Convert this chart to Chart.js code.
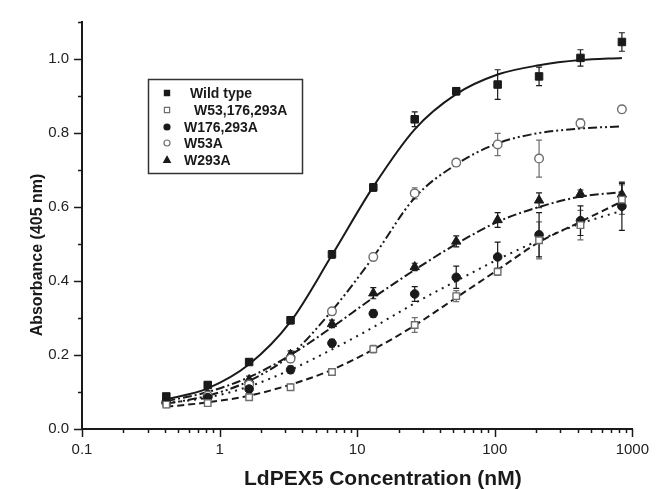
<!DOCTYPE html>
<html>
<head>
<meta charset="utf-8">
<script src="https://cdn.jsdelivr.net/npm/chart.js@4.4.1/dist/chart.umd.min.js"></script>
<style>
  html, body { margin: 0; padding: 0; background: #fff; }
  #wrap { width: 661px; height: 489px; }
</style>
</head>
<body>
<div id="wrap"><canvas id="bindingChart" width="661" height="489"></canvas></div>
<script>
// LdPEX5 concentration (nM), doubling dilutions
const concentrations = [0.41, 0.82, 1.64, 3.28, 6.56, 13.1, 26.2, 52.5, 105, 210, 420, 840];

const seriesLabels = ['Wild type', 'W53,176,293A', 'W176,293A', 'W53A', 'W293A'];

const wildType    = [0.088, 0.119, 0.181, 0.294, 0.472, 0.653, 0.837, 0.913, 0.931, 0.953, 1.003, 1.046];
const wildTypeErr = [0.008, 0.008, 0.008, 0.01, 0.01, 0.01, 0.02, 0.01, 0.04, 0.025, 0.022, 0.025];
const wildTypeFit = [0.08, 0.11, 0.175, 0.29, 0.47, 0.655, 0.81, 0.905, 0.958, 0.983, 0.997, 1.003];

const w53_176_293A    = [0.066, 0.07, 0.086, 0.113, 0.154, 0.216, 0.281, 0.359, 0.425, 0.51, 0.551, 0.62];
const w53_176_293AErr = [0.008, 0.008, 0.008, 0.008, 0.008, 0.01, 0.02, 0.015, 0.01, 0.05, 0.04, 0.04];
const w53_176_293AFit = [0.06, 0.072, 0.09, 0.12, 0.16, 0.215, 0.28, 0.355, 0.43, 0.505, 0.56, 0.615];

const w176_293A    = [0.073, 0.085, 0.108, 0.16, 0.232, 0.312, 0.365, 0.41, 0.465, 0.525, 0.563, 0.602];
const w176_293AErr = [0.008, 0.008, 0.01, 0.01, 0.01, 0.01, 0.02, 0.03, 0.04, 0.06, 0.04, 0.065];
const w176_293AFit = [0.07, 0.085, 0.115, 0.16, 0.215, 0.275, 0.34, 0.4, 0.458, 0.51, 0.555, 0.59];

const w53A    = [0.07, 0.09, 0.12, 0.19, 0.318, 0.465, 0.637, 0.72, 0.769, 0.731, 0.826, 0.864];
const w53AErr = [0.008, 0.008, 0.01, 0.01, 0.01, 0.01, 0.015, 0.01, 0.03, 0.05, 0.012, 0.01];
const w53AFit = [0.068, 0.09, 0.13, 0.2, 0.32, 0.465, 0.625, 0.715, 0.772, 0.8, 0.812, 0.818];

const w293A    = [0.077, 0.095, 0.133, 0.201, 0.284, 0.367, 0.438, 0.507, 0.565, 0.618, 0.636, 0.634];
const w293AErr = [0.008, 0.008, 0.01, 0.01, 0.01, 0.015, 0.01, 0.015, 0.02, 0.02, 0.01, 0.03];
const w293AFit = [0.075, 0.1, 0.14, 0.2, 0.275, 0.355, 0.43, 0.5, 0.56, 0.6, 0.628, 0.64];

// axes
const xMajorTicks = [0.1, 1, 10, 100, 1000];
const xTickLabels = ['0.1', '1', '10', '100', '1000'];
const yMin = 0, yMax = 1.1, yStep = 0.1;

const xAxisTitle = 'LdPEX5 Concentration (nM)';
const yAxisTitle = 'Absorbance (405 nm)';

function toPoints(values) {
  return concentrations.map((c, i) => ({ x: c, y: values[i] }));
}

const INK = '#1a1a1a';
const GREY = '#6e6e6e';

function pointSet(label, values, errors, style, radius, filled) {
  return {
    type: 'scatter',
    label: label,
    data: toPoints(values),
    errors: errors,
    pointStyle: style,
    pointRadius: radius,
    pointBackgroundColor: filled ? INK : '#fff',
    pointBorderColor: filled ? INK : GREY,
    pointBorderWidth: filled ? 1 : 1.4,
    showLine: false,
    order: 0
  };
}

function curveSet(values, dash) {
  return {
    type: 'line',
    label: '',
    data: toPoints(values),
    borderColor: INK,
    borderWidth: 2,
    borderDash: dash,
    pointRadius: 0,
    cubicInterpolationMode: 'monotone',
    fill: false,
    order: 1
  };
}

// error bars behind the markers
const errorBars = {
  id: 'errorBars',
  beforeDatasetsDraw(chart) {
    const ctx = chart.ctx;
    const x = chart.scales.x, y = chart.scales.y;
    ctx.save();
    chart.data.datasets.forEach(ds => {
      if (!ds.errors) return;
      ctx.strokeStyle = ds.pointBorderColor;
      ctx.lineWidth = 1.2;
      ds.data.forEach((p, i) => {
        const e = ds.errors[i];
        const px = x.getPixelForValue(p.x);
        const top = y.getPixelForValue(p.y + e);
        const bot = y.getPixelForValue(p.y - e);
        ctx.beginPath();
        ctx.moveTo(px, top); ctx.lineTo(px, bot);
        ctx.moveTo(px - 3, top); ctx.lineTo(px + 3, top);
        ctx.moveTo(px - 3, bot); ctx.lineTo(px + 3, bot);
        ctx.stroke();
      });
    });
    ctx.restore();
  }
};

function drawMarker(ctx, style, cx, cy, r, filled) {
  ctx.fillStyle = filled ? INK : '#fff';
  ctx.strokeStyle = filled ? INK : GREY;
  ctx.lineWidth = 1.2;
  ctx.beginPath();
  if (style === 'rect') {
    ctx.rect(cx - r, cy - r, 2 * r, 2 * r);
  } else if (style === 'triangle') {
    ctx.moveTo(cx, cy - r * 1.2);
    ctx.lineTo(cx + r * 1.1, cy + r * 0.8);
    ctx.lineTo(cx - r * 1.1, cy + r * 0.8);
    ctx.closePath();
  } else {
    ctx.arc(cx, cy, r, 0, Math.PI * 2);
  }
  ctx.fill();
  ctx.stroke();
}

// tick marks (long for labelled, short for minor), axis titles and boxed legend
const frame = {
  id: 'frame',
  afterDraw(chart) {
    const ctx = chart.ctx;
    const xs = chart.scales.x, ys = chart.scales.y;
    const area = chart.chartArea;
    ctx.save();
    ctx.strokeStyle = INK;
    ctx.lineWidth = 1.5;
    xs.ticks.forEach(t => {
      const px = Math.round(xs.getPixelForValue(t.value)) + 0.5;
      const len = xMajorTicks.includes(t.value) ? 8 : 4;
      ctx.beginPath();
      ctx.moveTo(px, area.bottom);
      ctx.lineTo(px, area.bottom + len);
      ctx.stroke();
    });
    ys.ticks.forEach(t => {
      const py = Math.round(ys.getPixelForValue(t.value)) + 0.5;
      const len = Math.round(t.value * 10) % 2 === 0 ? 8 : 4;
      ctx.beginPath();
      ctx.moveTo(area.left, py);
      ctx.lineTo(area.left - len, py);
      ctx.stroke();
    });

    // axis titles
    ctx.fillStyle = INK;
    ctx.font = 'bold 21px "Liberation Sans", Arial, sans-serif';
    ctx.textAlign = 'left';
    ctx.textBaseline = 'alphabetic';
    ctx.fillText(xAxisTitle, 244, 485);
    ctx.save();
    ctx.translate(42, 255);
    ctx.rotate(-Math.PI / 2);
    ctx.font = 'bold 16px "Liberation Sans", Arial, sans-serif';
    ctx.textAlign = 'center';
    ctx.fillText(yAxisTitle, 0, 0);
    ctx.restore();

    // legend
    ctx.lineWidth = 1.5;
    ctx.strokeStyle = '#333';
    ctx.strokeRect(148.5, 79.5, 154, 94);
    const rowY = [93, 110, 127, 143, 160];
    const textX = [190, 194, 184, 184, 184];
    const pts = chart.data.datasets.filter(d => d.type === 'scatter');
    ctx.font = 'bold 14px "Liberation Sans", Arial, sans-serif';
    ctx.textBaseline = 'middle';
    pts.forEach((ds, i) => {
      const filled = ds.pointBackgroundColor === INK;
      const r = ds.pointStyle === 'rect' ? 2.6 : 3;
      drawMarker(ctx, ds.pointStyle, 167, rowY[i], r, filled);
      ctx.fillStyle = INK;
      ctx.fillText(ds.label, textX[i], rowY[i] + 1);
    });
    ctx.restore();
  }
};

const ctx = document.getElementById('bindingChart').getContext('2d');
const bindingChart = new Chart(ctx, {
  data: {
    datasets: [
      pointSet(seriesLabels[0], wildType, wildTypeErr, 'rect', 5.3, true),
      pointSet(seriesLabels[1], w53_176_293A, w53_176_293AErr, 'rect', 4.6, false),
      pointSet(seriesLabels[2], w176_293A, w176_293AErr, 'circle', 4.3, true),
      pointSet(seriesLabels[3], w53A, w53AErr, 'circle', 4.3, false),
      pointSet(seriesLabels[4], w293A, w293AErr, 'triangle', 5.4, true),
      curveSet(wildTypeFit, []),
      curveSet(w53_176_293AFit, [7, 4]),
      curveSet(w176_293AFit, [2, 5]),
      curveSet(w53AFit, [9, 3, 2, 3, 2, 3]),
      curveSet(w293AFit, [9, 3, 2, 3])
    ]
  },
  options: {
    responsive: false,
    devicePixelRatio: 1,
    animation: false,
    layout: { padding: { top: 15, right: 21, bottom: 0, left: 0 } },
    plugins: {
      legend: { display: false },
      tooltip: { enabled: false }
    },
    scales: {
      x: {
        type: 'logarithmic',
        min: 0.1,
        max: 1000,
        afterBuildTicks: scale => {
          const vals = [];
          xMajorTicks.slice(0, -1).forEach(d => {
            for (let k = 1; k < 10; k++) vals.push(+(d * k).toPrecision(3));
          });
          vals.push(xMajorTicks[xMajorTicks.length - 1]);
          scale.ticks = vals.map(v => ({ value: v }));
        },
        afterFit: scale => { scale.height = 60; },
        grid: { display: false, drawTicks: false },
        border: { display: true, color: INK, width: 2 },
        ticks: {
          autoSkip: false,
          maxRotation: 0,
          padding: 12,
          color: '#222',
          font: { family: '"Liberation Sans", Arial, sans-serif', size: 15 },
          callback: value => {
            const i = xMajorTicks.indexOf(value);
            return i >= 0 ? xTickLabels[i] : '';
          }
        }
      },
      y: {
        min: yMin,
        max: yMax,
        afterFit: scale => { scale.width = 82; },
        grid: { display: false, drawTicks: false },
        border: { display: true, color: INK, width: 2 },
        ticks: {
          stepSize: yStep,
          padding: 13,
          color: '#222',
          font: { family: '"Liberation Sans", Arial, sans-serif', size: 15 },
          callback: value => Math.round(value * 10) % 2 === 0 && value < 1.05 ? value.toFixed(1) : ''
        }
      }
    }
  },
  plugins: [errorBars, frame]
});
</script>
</body>
</html>
